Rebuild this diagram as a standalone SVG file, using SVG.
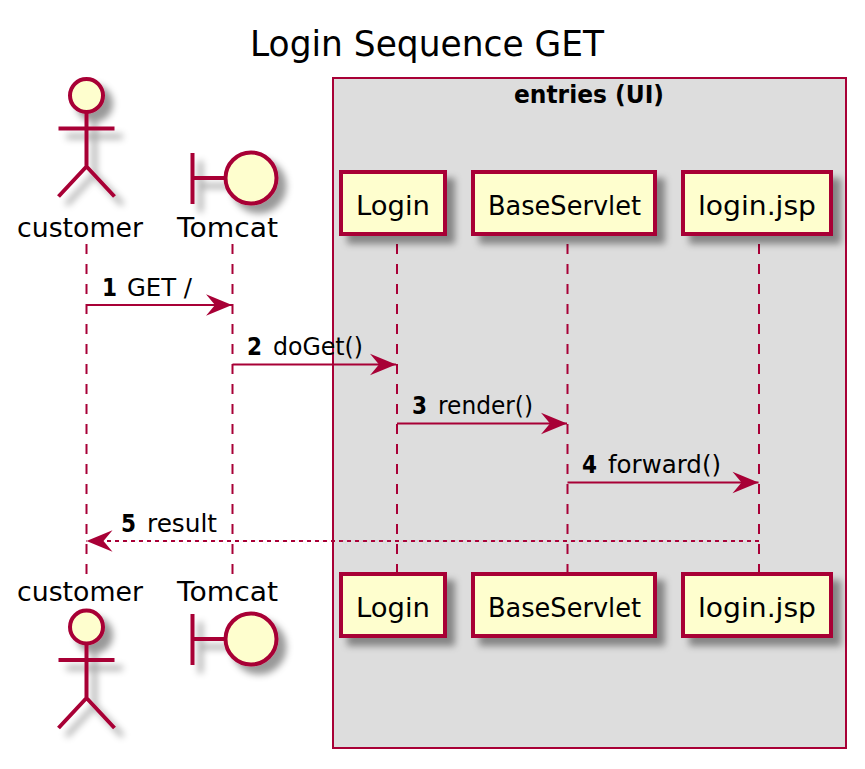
<svg xmlns="http://www.w3.org/2000/svg" width="865" height="769" viewBox="0 0 865 769">
<style>
text{font-family:"DejaVu Sans","Liberation Sans",sans-serif;fill:#000}
.l{font-size:26px}
.m{font-size:24px}
.b{font-weight:bold}
.ln{fill:none;stroke:#A80036;stroke-width:4}
.sh{fill:#FEFECE;stroke:#A80036;stroke-width:4}
.ll{fill:none;stroke:#A80036;stroke-width:2;stroke-dasharray:10,10}
.ar{fill:none;stroke:#A80036;stroke-width:2}
.hd{fill:#A80036;stroke:none}
</style>
<defs>
<filter id="s" x="-30%" y="-30%" width="170%" height="170%">
<feGaussianBlur in="SourceAlpha" stdDeviation="3.5"/>
<feColorMatrix type="matrix" values="0 0 0 0 0 0 0 0 0 0 0 0 0 0 0 0 0 0 .4 0"/>
<feOffset dx="8" dy="8" result="o"/>
<feMerge><feMergeNode in="o"/><feMergeNode in="SourceGraphic"/></feMerge>
</filter>
<marker id="a" markerUnits="userSpaceOnUse" markerWidth="30" markerHeight="26" refX="26" refY="11" orient="auto-start-reverse" overflow="visible">
<path d="M0,0.3 L26,11 L0,21.7 L9,11 Z" class="hd"/>
</marker>
<g id="act"><g filter="url(#s)"><circle cx="86.5" cy="0" r="16.5" class="sh"/><path d="M86.5,16.5V71M58.5,33H114.5M86.5,71L58.5,101M86.5,71L114.5,101" class="ln"/></g></g>
<g id="bnd"><g filter="url(#s)"><path d="M192.5,-25V26M192.5,0H225" class="ln"/><circle cx="251" cy="0" r="25.5" class="sh"/></g></g>
</defs>
<rect width="865" height="769" fill="#fff"/>
<text id="title" x="250" y="56" font-size="36" textLength="354" lengthAdjust="spacingAndGlyphs">Login Sequence GET</text>
<g id="box-entries">
<rect x="333" y="78" width="513" height="670" fill="#DDDDDD" stroke="#A80036" stroke-width="2"/>
<text x="514" y="103" class="m b" textLength="150" lengthAdjust="spacingAndGlyphs">entries (UI)</text>
</g>
<g id="lifelines">
<line x1="86.5" y1="244" x2="86.5" y2="574" class="ll"/>
<line x1="232.5" y1="244" x2="232.5" y2="574" class="ll"/>
<line x1="397" y1="244" x2="397" y2="574" class="ll"/>
<line x1="567.5" y1="244" x2="567.5" y2="574" class="ll"/>
<line x1="759" y1="244" x2="759" y2="574" class="ll"/>
</g>
<g id="customer-top"><use href="#act" y="95.5"/><text x="17" y="237" class="l" textLength="126" lengthAdjust="spacingAndGlyphs">customer</text></g>
<g id="tomcat-top"><use href="#bnd" y="178"/><text x="177" y="237" class="l" textLength="101" lengthAdjust="spacingAndGlyphs">Tomcat</text></g>
<g id="login-top"><rect x="341" y="172" width="104" height="62" class="sh" filter="url(#s)"/><text x="356" y="215" class="l" textLength="74" lengthAdjust="spacingAndGlyphs">Login</text></g>
<g id="baseservlet-top"><rect x="473" y="172" width="182" height="62" class="sh" filter="url(#s)"/><text x="488" y="215" class="l" textLength="153" lengthAdjust="spacingAndGlyphs">BaseServlet</text></g>
<g id="loginjsp-top"><rect x="683" y="172" width="148" height="62" class="sh" filter="url(#s)"/><text x="698" y="215" class="l" textLength="118" lengthAdjust="spacingAndGlyphs">login.jsp</text></g>
<g id="customer-bottom"><text x="17" y="601" class="l" textLength="126" lengthAdjust="spacingAndGlyphs">customer</text><use href="#act" y="627"/></g>
<g id="tomcat-bottom"><text x="177" y="601" class="l" textLength="101" lengthAdjust="spacingAndGlyphs">Tomcat</text><use href="#bnd" y="639"/></g>
<g id="login-bottom"><rect x="341" y="574" width="104" height="62" class="sh" filter="url(#s)"/><text x="356" y="617" class="l" textLength="74" lengthAdjust="spacingAndGlyphs">Login</text></g>
<g id="baseservlet-bottom"><rect x="473" y="574" width="182" height="62" class="sh" filter="url(#s)"/><text x="488" y="617" class="l" textLength="153" lengthAdjust="spacingAndGlyphs">BaseServlet</text></g>
<g id="loginjsp-bottom"><rect x="683" y="574" width="148" height="62" class="sh" filter="url(#s)"/><text x="698" y="617" class="l" textLength="118" lengthAdjust="spacingAndGlyphs">login.jsp</text></g>
<g id="connectors">
<line x1="86.5" y1="305" x2="232" y2="305" class="ar" marker-end="url(#a)"/>
<line x1="232.5" y1="364.5" x2="396" y2="364.5" class="ar" marker-end="url(#a)"/>
<line x1="397" y1="423.5" x2="567" y2="423.5" class="ar" marker-end="url(#a)"/>
<line x1="567.5" y1="482.5" x2="758.5" y2="482.5" class="ar" marker-end="url(#a)"/>
<line x1="759" y1="541" x2="86.5" y2="541" class="ar" stroke-dasharray="4,4" marker-end="url(#a)"/>
</g>
<g id="labels" class="m">
<text x="102" y="296" class="b" textLength="15" lengthAdjust="spacingAndGlyphs">1</text><text x="127" y="296" textLength="65" lengthAdjust="spacingAndGlyphs">GET /</text>
<text x="247" y="355" class="b" textLength="15" lengthAdjust="spacingAndGlyphs">2</text><text x="273" y="355" textLength="90" lengthAdjust="spacingAndGlyphs">doGet()</text>
<text x="412" y="414" class="b" textLength="15" lengthAdjust="spacingAndGlyphs">3</text><text x="438" y="414" textLength="95" lengthAdjust="spacingAndGlyphs">render()</text>
<text x="582" y="473" class="b" textLength="15" lengthAdjust="spacingAndGlyphs">4</text><text x="608" y="473" textLength="113" lengthAdjust="spacingAndGlyphs">forward()</text>
<text x="121" y="532" class="b" textLength="15" lengthAdjust="spacingAndGlyphs">5</text><text x="147" y="532" textLength="70" lengthAdjust="spacingAndGlyphs">result</text>
</g>
</svg>
